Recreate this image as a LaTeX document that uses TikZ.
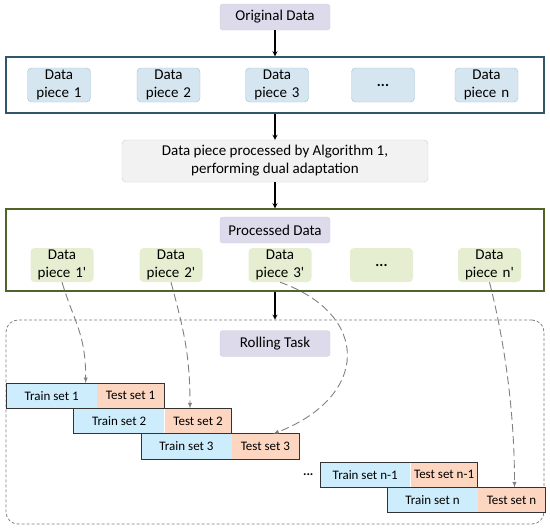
\documentclass[tikz,border=0pt]{standalone}
\usepackage{xcolor}
\usepackage{fontspec}
\setmainfont{Carlito}[Ligatures=TeXOff]
\usepackage{tikz}
\usetikzlibrary{arrows}
\usetikzlibrary{positioning}
\definecolor{headfill}{RGB}{221,219,235}
\definecolor{blueline}{RGB}{49,85,106}
\definecolor{bluefill}{RGB}{213,230,240}
\definecolor{blueedge}{RGB}{160,194,212}
\definecolor{procfill}{RGB}{242,242,242}
\definecolor{procedge}{RGB}{205,205,205}
\definecolor{greenline}{RGB}{80,99,40}
\definecolor{greenfill}{RGB}{229,238,208}
\definecolor{trainfill}{RGB}{205,237,252}
\definecolor{testfill}{RGB}{252,214,192}
\newcommand{\txtbig}{\fontsize{15}{18}\selectfont}
\newcommand{\txtsmall}{\fontsize{13}{15}\selectfont}
\tikzstyle{headbox} = [rectangle, rounded corners=3pt, minimum width=110pt, minimum height=26pt, fill=headfill, draw=headfill!85!gray, font=\txtbig]
\tikzstyle{outerbox} = [rectangle, minimum width=538pt, line width=1.4pt]
\tikzstyle{piece} = [rectangle, rounded corners=4pt, minimum width=63pt, minimum height=34pt, inner sep=0pt, text width=60pt, align=center, font=\txtbig]
\tikzstyle{trainbox} = [rectangle, minimum width=90pt, minimum height=25pt, inner sep=0pt, fill=trainfill, font=\txtsmall]
\tikzstyle{testbox} = [rectangle, minimum width=67pt, minimum height=25pt, inner sep=0pt, fill=testfill, font=\txtsmall]
\tikzstyle{arrow} = [line width=1.2pt,->,>=stealth]
\tikzstyle{dasharrow} = [line width=0.9pt, gray, dash pattern=on 8pt off 4pt, ->, >=latex]
\tikzstyle{rowline} = [line width=0.9pt, draw=black!80]
\begin{document}
\begin{tikzpicture}[x=1pt, y=-1pt]
    \useasboundingbox (0,0) rectangle (550,530);
    % raw data
    \node(orig)[headbox] at (275,17) {Original Data};
    \node(pieces)[outerbox, minimum height=56pt, draw=blueline] at (275,85) {};
    \node(pA)[piece, fill=bluefill, draw=blueedge] at (59,85) {Data\\piece 1};
    \node(pB)[piece, fill=bluefill, draw=blueedge] at (168.5,85) {Data\\piece 2};
    \node(pC)[piece, fill=bluefill, draw=blueedge] at (277,85) {Data\\piece 3};
    \node(pD)[piece, fill=bluefill, draw=blueedge] at (383,85) {\textbf{...}};
    \node(pE)[piece, fill=bluefill, draw=blueedge] at (486.5,85) {Data\\piece n};
    \node(proc)[rectangle, rounded corners=4pt, minimum width=306pt, minimum height=42pt, fill=procfill, draw=procedge, align=center, font=\txtbig] at (275,161) {Data piece processed by Algorithm 1,\\performing dual adaptation};
    % processed data
    \node(processed)[outerbox, minimum height=82pt, draw=greenline] at (275,250) {};
    \node(phead)[headbox] at (275,230) {Processed Data};
    \node(dA)[piece, fill=greenfill] at (62,265) {Data\\piece 1'};
    \node(dB)[piece, fill=greenfill] at (171,265) {Data\\piece 2'};
    \node(dC)[piece, fill=greenfill] at (280,265) {Data\\piece 3'};
    \node(dD)[piece, fill=greenfill] at (381.5,265) {\textbf{...}};
    \node(dE)[piece, fill=greenfill] at (489.5,265) {Data\\piece n'};
    % rolling task
    \node(rolling)[rectangle, rounded corners=12pt, minimum width=538pt, minimum height=204pt, draw=gray, dash pattern=on 3pt off 2pt, line width=0.8pt] at (275,422) {};
    \node(rhead)[headbox] at (275,343.5) {Rolling Task};
    \node(trainA)[trainbox, anchor=north west] at (6.5,383) {Train set 1};
    \node(testA)[testbox, right=0pt of trainA] {Test set 1};
    \node(trainB)[trainbox, anchor=north east] at (testA.south east) {Train set 2};
    \node(testB)[testbox, right=0pt of trainB] {Test set 2};
    \node(trainC)[trainbox, anchor=north east] at (testB.south east) {Train set 3};
    \node(testC)[testbox, right=0pt of trainC] {Test set 3};
    \node(trainM)[trainbox, anchor=north west] at (320,462) {Train set n-1};
    \node(testM)[testbox, right=0pt of trainM] {Test set n-1};
    \node(trainN)[trainbox, anchor=north east] at (testM.south east) {Train set n};
    \node(testN)[testbox, right=0pt of trainN] {Test set n};
    \node(more)[left=3pt of trainM, font=\txtsmall] {\textbf{...}};
    \draw[rowline](trainA.north west) rectangle (testA.south east);
    \draw[rowline](trainB.north west) rectangle (testB.south east);
    \draw[rowline](trainC.north west) rectangle (testC.south east);
    \draw[rowline](trainM.north west) rectangle (testM.south east);
    \draw[rowline](trainN.north west) rectangle (testN.south east);
    % flow
    \draw[arrow](orig)--(pieces);
    \draw[arrow](pieces)--(proc);
    \draw[arrow](proc)--(processed);
    \draw[arrow](processed)--(rolling);
    \draw[dasharrow](dA.south) .. controls +(12,40) and +(0,-50) .. ([xshift=34pt]trainA.north);
    \draw[dasharrow](dB.south) .. controls +(12,45) and +(0,-55) .. ([xshift=-8pt]testB.north);
    \draw[dasharrow](dC.south) .. controls +(90,32) and +(97,-38) .. ([xshift=8pt]testC.north);
    \draw[dasharrow](dE.south) .. controls +(14,55) and +(0,-80) .. ([xshift=3pt]testN.north);
\end{tikzpicture}
\end{document}
